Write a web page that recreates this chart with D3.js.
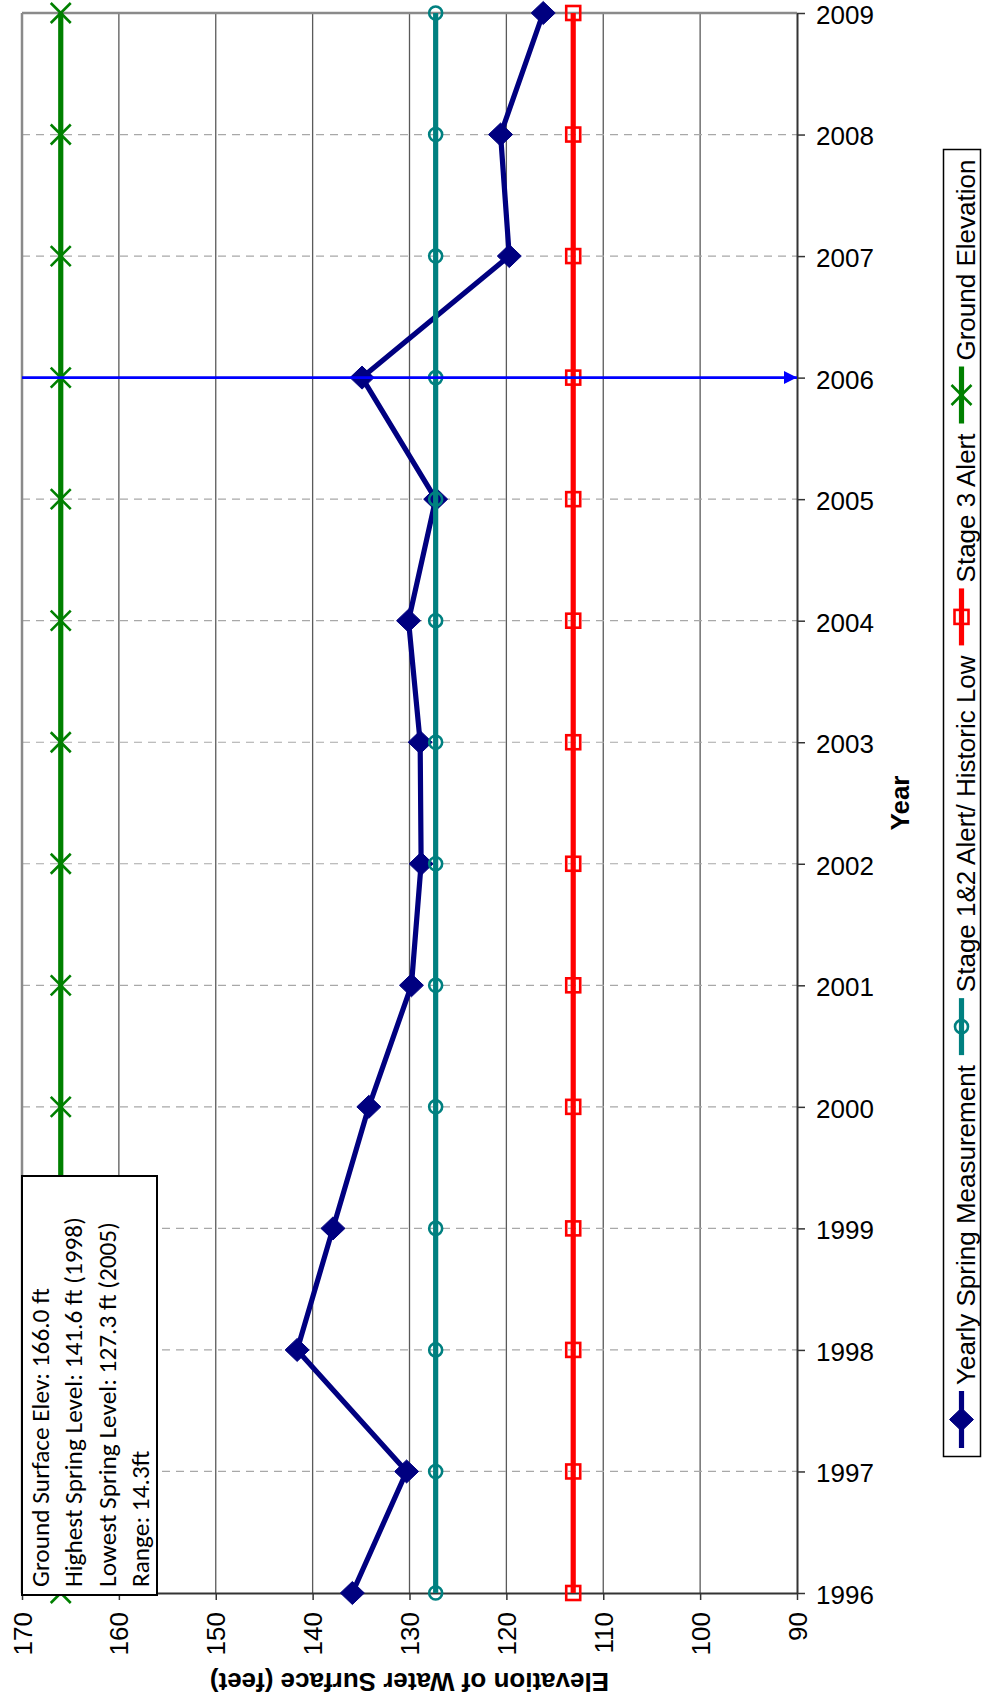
<!DOCTYPE html>
<html><head><meta charset="utf-8">
<script src="https://cdn.jsdelivr.net/npm/d3@7"></script>
<style>body{margin:0;background:#fff}svg{display:block}</style>
</head><body>
<svg id="chart" width="982" height="1698"></svg>
<script>
// ---- data ----
const years = [1996,1997,1998,1999,2000,2001,2002,2003,2004,2005,2006,2007,2008,2009];
const yearlySpring = [135.9,130.3,141.6,137.9,134.2,129.8,128.8,128.9,130.1,127.3,134.9,119.7,120.6,116.2];
const stage12Alert = [127.3,127.3,127.3,127.3,127.3,127.3,127.3,127.3,127.3,127.3,127.3,127.3,127.3,127.3];
const stage3Alert = [113.1,113.1,113.1,113.1,113.1,113.1,113.1,113.1,113.1,113.1,113.1,113.1,113.1,113.1];
const groundElev = [166,166,166,166,166,166,166,166,166,166,166,166,166,166];
const elevTicks = [170,160,150,140,130,120,110,100,90];
const yearTicks = [1996,1997,1998,1999,2000,2001,2002,2003,2004,2005,2006,2007,2008,2009];
const seriesNames = ["Yearly Spring Measurement","Stage 1&2 Alert/ Historic Low","Stage 3 Alert","Ground Elevation"];
const markerYear = 2006;
const infoLines = ["Ground Surface Elev: 166.0 ft","Highest Spring Level: 141.6 ft (1998)","Lowest Spring Level: 127.3 ft (2005)","Range: 14.3ft"];
const xTitle = "Elevation of Water Surface (feet)";
const yTitle = "Year";

// ---- setup ----
const svg = d3.select("#chart");
const FONT = "'Liberation Sans', Arial, sans-serif";
const L = 22, R = 797, T = 13, B = 1593;
const x = d3.scaleLinear().domain([170, 90]).range([L, R]);
const y = d3.scaleLinear().domain([1996, 2009]).range([B, T]);

svg.append("rect").attr("width",982).attr("height",1698).attr("fill","#fff");

// grid
const grid = svg.append("g");
grid.selectAll("line.v").data(elevTicks.slice(1, -1)).join("line")
  .attr("x1", d=>x(d)).attr("x2", d=>x(d)).attr("y1", T).attr("y2", B)
  .attr("stroke", "#5a5a5a").attr("stroke-width", 1.3);
grid.selectAll("line.h").data(yearTicks.slice(1, -1)).join("line")
  .attr("x1", L).attr("x2", R).attr("y1", d=>y(d)).attr("y2", d=>y(d))
  .attr("stroke", "#a8a8a8").attr("stroke-width", 1.2).attr("stroke-dasharray", "8,6");
// top / left border
svg.append("line").attr("x1", L).attr("x2", R).attr("y1", T).attr("y2", T).attr("stroke", "#8a8a8a").attr("stroke-width", 2.5);
svg.append("line").attr("x1", L).attr("x2", L).attr("y1", T).attr("y2", B).attr("stroke", "#8a8a8a").attr("stroke-width", 2.5);

// axes
const gx = svg.append("g").attr("transform", `translate(0,${B})`)
  .call(d3.axisBottom(x).tickValues(elevTicks).tickSize(7).tickSizeOuter(0));
gx.select(".domain").attr("stroke", "#333").attr("stroke-width", 2);
gx.selectAll(".tick line").attr("stroke", "#333").attr("stroke-width", 1.5);
gx.selectAll(".tick text").attr("transform", "rotate(-90)").attr("x", -19).attr("y", 0)
  .attr("dy", "0.35em").attr("text-anchor", "end")
  .attr("font-family", FONT).attr("font-size", 26).attr("fill", "#000");

const gy = svg.append("g").attr("transform", `translate(${R},0)`)
  .call(d3.axisRight(y).tickValues(yearTicks).tickFormat(d3.format("d")).tickSize(8).tickSizeOuter(0));
gy.select(".domain").attr("stroke", "#333").attr("stroke-width", 2);
gy.selectAll(".tick line").attr("stroke", "#333").attr("stroke-width", 1.5);
gy.selectAll(".tick text").attr("x", 19).attr("dy", "0.4em")
  .attr("font-family", FONT).attr("font-size", 26).attr("fill", "#000");

// titles
svg.append("text").attr("transform", `translate(${(L+R)/2},1673) rotate(180)`)
  .attr("text-anchor", "middle").attr("font-family", FONT).attr("font-weight", "bold")
  .attr("font-size", 26).text(xTitle);
svg.append("text").attr("transform", `translate(909,${(T+B)/2}) rotate(-90)`)
  .attr("text-anchor", "middle").attr("font-family", FONT).attr("font-weight", "bold")
  .attr("font-size", 26).text(yTitle);

// markers
const markerDefs = {
  diamond: g => g.append("path").attr("d", "M0,-11.5L12,0L0,11.5L-12,0Z"),
  circle: g => g.append("circle").attr("r", 6.5),
  square: g => g.append("rect").attr("x", -7).attr("y", -7).attr("width", 14).attr("height", 14),
  cross: g => g.append("path").attr("d", "M-10,-10L10,10M-10,10L10,-10")
};
const series = [
  {name: seriesNames[0], values: yearlySpring, color: "#000080", sym: "diamond", filled: true},
  {name: seriesNames[1], values: stage12Alert, color: "#008080", sym: "circle", filled: false},
  {name: seriesNames[2], values: stage3Alert, color: "#ff0000", sym: "square", filled: false},
  {name: seriesNames[3], values: groundElev, color: "#008000", sym: "cross", filled: false}
];
function styleMarker(sel, s) {
  sel.attr("fill", s.filled ? s.color : "none").attr("stroke", s.color)
     .attr("stroke-width", s.filled ? 1 : 2.6);
}
const line = d3.line().x(d=>x(d.v)).y(d=>y(d.yr));
series.forEach(s => {
  const pts = years.map((yr,i)=>({yr, v: s.values[i]}));
  const g = svg.append("g");
  g.append("path").datum(pts).attr("d", line).attr("fill", "none")
    .attr("stroke", s.color).attr("stroke-width", 5.2).attr("stroke-linejoin", "round");
  pts.forEach(p => {
    const m = g.append("g").attr("transform", `translate(${x(p.v)},${y(p.yr)})`);
    styleMarker(markerDefs[s.sym](m), s);
  });
});

// blue arrow at 2006
svg.append("defs").append("marker").attr("id", "arr").attr("viewBox", "0 0 10 10")
  .attr("refX", 10).attr("refY", 5).attr("markerWidth", 5).attr("markerHeight", 6)
  .attr("markerUnits", "strokeWidth").attr("orient", "auto")
  .append("path").attr("d", "M0,0L10,5L0,10Z").attr("fill", "#0000ff");
svg.append("line").attr("x1", L).attr("x2", R).attr("y1", y(markerYear)).attr("y2", y(markerYear))
  .attr("stroke", "#0000ff").attr("stroke-width", 2.6).attr("marker-end", "url(#arr)");

// info box
const bx0 = 22, bx1 = 157, by0 = 1176, by1 = 1595;
svg.append("rect").attr("x", bx0).attr("y", by0).attr("width", bx1-bx0).attr("height", by1-by0)
  .attr("fill", "#fff").attr("stroke", "#000").attr("stroke-width", 2);
const BFONT = "Carlito, Calibri, Lato, 'Open Sans', sans-serif";
const probe = svg.append("text").attr("font-family", BFONT).attr("font-size", 100).text(infoLines[1]);
const probeLen = probe.node().getComputedTextLength();
probe.remove();
const bfs = 100 * 370 / probeLen;
infoLines.forEach((t,i) => {
  svg.append("text").attr("transform", `translate(${48.5 + i*33.5},1587) rotate(-90)`)
    .attr("font-family", BFONT).attr("font-size", bfs).attr("fill", "#000").text(t);
});

// legend
const lg = svg.append("g");
lg.append("rect").attr("x", 943.5).attr("y", 149.5).attr("width", 37).attr("height", 1307)
  .attr("fill", "#fff").attr("stroke", "#000").attr("stroke-width", 1.5);
let y0 = 1448;
series.forEach(s => {
  const sx = 961.5;
  lg.append("line").attr("x1", sx).attr("x2", sx).attr("y1", y0).attr("y2", y0-57)
    .attr("stroke", s.color).attr("stroke-width", 5.2);
  const m = lg.append("g").attr("transform", `translate(${sx},${y0-28.5})`);
  styleMarker(markerDefs[s.sym](m), s);
  const ts = y0 - 57 - 6;
  const t = lg.append("text").attr("transform", `translate(975,${ts}) rotate(-90)`)
    .attr("font-family", FONT).attr("font-size", 26).attr("fill", "#000").text(s.name);
  y0 = ts - t.node().getComputedTextLength() - 10;
});
</script>
</body></html>
